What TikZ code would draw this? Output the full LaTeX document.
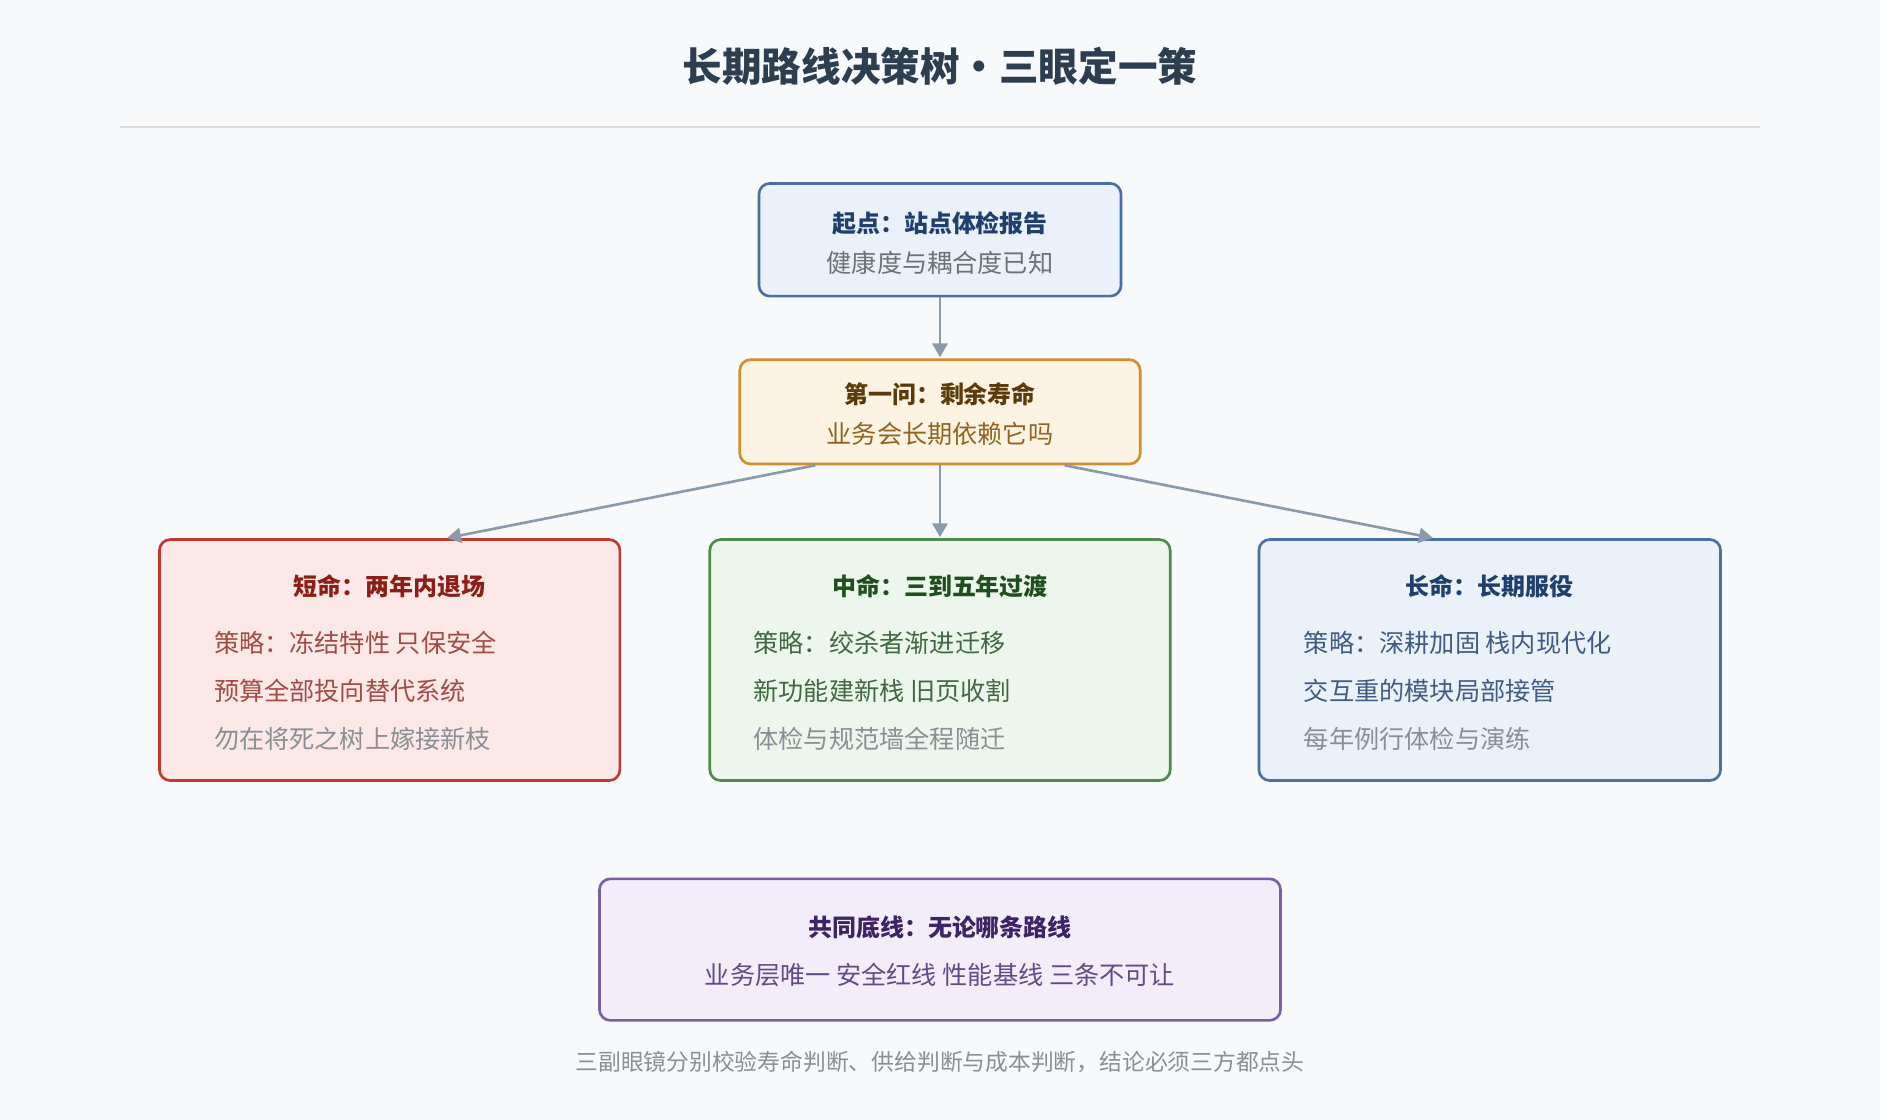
\documentclass[tikz,border=0pt]{standalone}
\usepackage{fontspec}
\setmainfont{Noto Sans CJK SC}
\usetikzlibrary{arrows,positioning}
\definecolor{bgc}{HTML}{F7F9FA}
\definecolor{ink}{HTML}{2C3E50}
\definecolor{conn}{HTML}{8A9AAB}
\definecolor{bluefill}{HTML}{EAF1F9}\definecolor{blueline}{HTML}{4A6FA5}\definecolor{bluetxt}{HTML}{1F3F6E}
\definecolor{orfill}{HTML}{FDF3E3}\definecolor{orline}{HTML}{D08F2E}\definecolor{ortxt}{HTML}{5A3B0A}
\definecolor{redfill}{HTML}{FCE8E6}\definecolor{redline}{HTML}{C0392B}\definecolor{redtxt}{HTML}{8B1E16}
\definecolor{grfill}{HTML}{EDF6EC}\definecolor{grline}{HTML}{4E8A4E}\definecolor{grtxt}{HTML}{1F4F1F}
\definecolor{pufill}{HTML}{F3EDF9}\definecolor{puline}{HTML}{7A5EA8}\definecolor{putxt}{HTML}{3E2466}
\definecolor{muted}{HTML}{8A8F96}
\begin{document}
\begin{tikzpicture}[%
    x=1pt, y=-1pt,
    >=triangle 60,              % filled heads
    ]
% -------------------------------------------------
% Box and text styles
\tikzset{
  box/.style={draw, line width=2.2pt, rounded corners=9pt},
  ttl/.style={font=\fontsize{20}{24}\selectfont\bfseries},
  txt/.style={font=\fontsize{21}{25}\selectfont, anchor=west},
  sub/.style={font=\fontsize{21}{25}\selectfont},
  norm/.style={->, draw=conn, line width=2.2pt, shorten >=1pt},
}
\fill[bgc] (0,0) rectangle (1568,934);
\useasboundingbox (0,0) rectangle (1568,934);
% -------------------------------------------------
% Title
\node[font=\fontsize{33}{38}\selectfont\bfseries, text=ink] (title) at (784,55) {长期路线决策树・三眼定一策};
\draw[black!15, line width=1pt] (100,106) -- (1468,106);
% -------------------------------------------------
% Top of the tree
\node[box, draw=blueline, fill=bluefill, minimum width=302pt, minimum height=94pt] (start) at (784,200) {};
\node[ttl, text=bluetxt] at (784,186) {起点：站点体检报告};
\node[sub, text=muted!80!black] at (784,219) {健康度与耦合度已知};
\node[box, draw=orline, fill=orfill, minimum width=334pt, minimum height=87pt] (ask) at (784,343.5) {};
\node[ttl, text=ortxt] at (784,329) {第一问：剩余寿命};
\node[sub, text=orline!70!black] at (784,362) {业务会长期依赖它吗};
% -------------------------------------------------
% Three branches
\node[box, draw=redline, fill=redfill, minimum width=384pt, minimum height=201pt] (short) at (325,550.5) {};
\node[ttl, text=redtxt] at (325,489) {短命：两年内退场};
\node[txt, text=redtxt!80] at (175,536) {策略：冻结特性 只保安全};
\node[txt, text=redtxt!80] at (175,576) {预算全部投向替代系统};
\node[txt, text=muted] at (175,616) {勿在将死之树上嫁接新枝};

\node[box, draw=grline, fill=grfill, minimum width=384pt, minimum height=201pt] (mid) at (784,550.5) {};
\node[ttl, text=grtxt] at (784,489) {中命：三到五年过渡};
\node[txt, text=grtxt!85] at (625,536) {策略：绞杀者渐进迁移};
\node[txt, text=grtxt!85] at (625,576) {新功能建新栈 旧页收割};
\node[txt, text=muted] at (625,616) {体检与规范墙全程随迁};

\node[box, draw=blueline, fill=bluefill, minimum width=385pt, minimum height=201pt] (long) at (1242.5,550.5) {};
\node[ttl, text=bluetxt] at (1242.5,489) {长命：长期服役};
\node[txt, text=bluetxt!85] at (1084,536) {策略：深耕加固 栈内现代化};
\node[txt, text=bluetxt!85] at (1084,576) {交互重的模块局部接管};
\node[txt, text=muted] at (1084,616) {每年例行体检与演练};
% -------------------------------------------------
% Common baseline
\node[box, draw=puline, fill=pufill, minimum width=568pt, minimum height=118pt] (base) at (784,792) {};
\node[ttl, text=putxt] at (784,773) {共同底线：无论哪条路线};
\node[sub, text=puline!80!black] at (784,813) {业务层唯一 安全红线 性能基线 三条不可让};
\node[font=\fontsize{19}{23}\selectfont, text=muted] (foot) at (784,886) {三副眼镜分别校验寿命判断、供给判断与成本判断，结论必须三方都点头};
% -------------------------------------------------
% Connectors
\draw[norm] (start) -- (ask);
\draw[norm] ([xshift=-104pt]ask.south) -- ([xshift=47pt]short.north);
\draw[norm] (ask) -- (mid);
\draw[norm] ([xshift=104pt]ask.south) -- ([xshift=-46.5pt]long.north);
\end{tikzpicture}
\end{document}
